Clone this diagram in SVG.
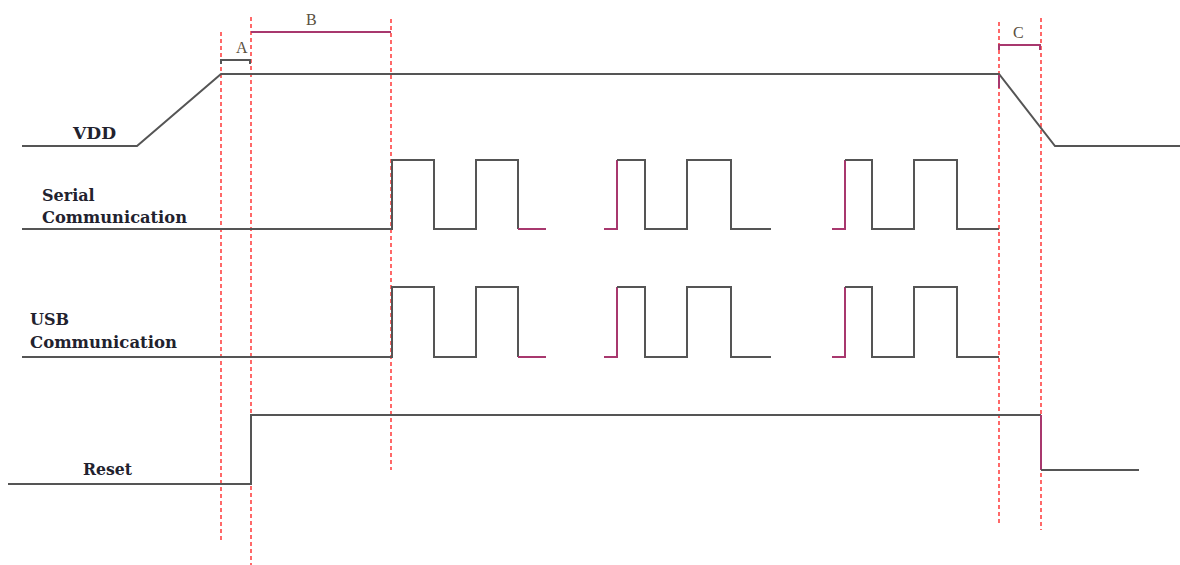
<svg xmlns="http://www.w3.org/2000/svg" width="1180" height="565" viewBox="0 0 1180 565">
<style>
.sig{fill:none;stroke:#555;stroke-width:2;stroke-linejoin:miter}
.pk{fill:none;stroke:#a8386e;stroke-width:2}
.dash{fill:none;stroke:#ff4444;stroke-width:1.6;stroke-dasharray:4,3}
.lbl{font-family:"DejaVu Serif","Liberation Serif",serif;font-weight:bold;font-size:16px;fill:#22222e}
.mk{font-family:"Liberation Serif","DejaVu Serif",serif;font-size:16px;fill:#5a5040}
</style>
<rect width="1180" height="565" fill="#fff"/>
<g id="markers">
<line class="dash" x1="221" y1="32" x2="221" y2="540"/>
<line class="dash" x1="251" y1="17" x2="251" y2="565"/>
<line class="dash" x1="391" y1="19" x2="391" y2="470"/>
<line class="dash" x1="999" y1="22" x2="999" y2="525"/>
<line class="dash" x1="1041" y1="18" x2="1041" y2="530"/>
</g>
<g id="intervals">
<path class="sig" d="M221,64 V60 H250 V64"/>
<text class="mk" x="236" y="53">A</text>
<line class="pk" x1="251" y1="32" x2="391" y2="32"/>
<text class="mk" x="306" y="25">B</text>
<path class="pk" d="M999,50 V45 H1040 V50"/>
<text class="mk" x="1013" y="38">C</text>
</g>
<g id="vdd">
<path class="sig" d="M22,146 H137 L221,74 H999 L1055,146 H1180"/>
<line class="pk" x1="999" y1="75" x2="999" y2="88"/>
<text class="lbl" x="73" y="139" textLength="43" lengthAdjust="spacingAndGlyphs">VDD</text>
</g>
<g id="serial">
<path class="sig" d="M22,229 H392 V160 H434 V229 H476 V160 H518 V229"/>
<line class="pk" x1="518" y1="229" x2="546" y2="229"/>
<path class="pk" d="M604,229 H617 V160"/>
<path class="sig" d="M617,160 H645 V229 H687 V160 H731 V229 H771"/>
<path class="pk" d="M832,229 H845 V160"/>
<path class="sig" d="M845,160 H872 V229 H914 V160 H957 V229 H999"/>
<text class="lbl" x="42" y="201">Serial</text>
<text class="lbl" x="42" y="223" textLength="145" lengthAdjust="spacingAndGlyphs">Communication</text>
</g>
<g id="usb">
<path class="sig" d="M22,357 H392 V287 H434 V357 H476 V287 H518 V357"/>
<line class="pk" x1="518" y1="357" x2="546" y2="357"/>
<path class="pk" d="M604,357 H617 V287"/>
<path class="sig" d="M617,287 H645 V357 H687 V287 H731 V357 H771"/>
<path class="pk" d="M832,357 H845 V287"/>
<path class="sig" d="M845,287 H872 V357 H914 V287 H957 V357 H999"/>
<text class="lbl" x="30" y="325">USB</text>
<text class="lbl" x="30" y="348" textLength="147" lengthAdjust="spacingAndGlyphs">Communication</text>
</g>
<g id="reset">
<path class="sig" d="M8,484 H251 V415 H1041"/>
<line class="pk" x1="1041" y1="415" x2="1041" y2="470"/>
<line class="sig" x1="1041" y1="470" x2="1139" y2="470"/>
<text class="lbl" x="83" y="475" textLength="49" lengthAdjust="spacingAndGlyphs">Reset</text>
</g>
</svg>
